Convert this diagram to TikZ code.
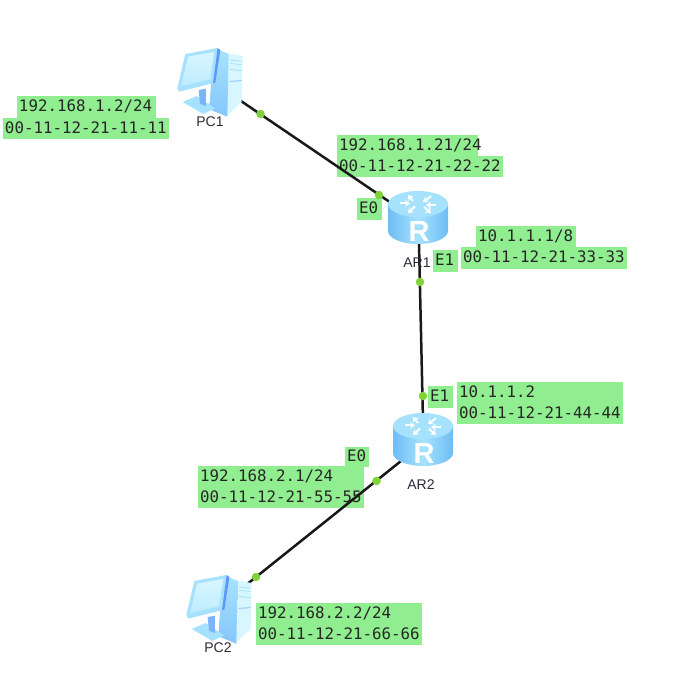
\documentclass[tikz,border=0pt]{standalone}
\usepackage{fontspec}
\setmainfont{Liberation Sans}
\newfontfamily\lblfont{DejaVu Sans Mono}
\usetikzlibrary{arrows.meta}
\definecolor{lblgreen}{HTML}{90EE90}
\definecolor{dotgreen}{HTML}{7FD23A}
\definecolor{rside}{HTML}{8FD3FB}
\definecolor{rsidedark}{HTML}{5FB4F2}
\definecolor{rtop}{HTML}{A6E2FD}
\definecolor{pclight}{HTML}{D8F6FF}
\definecolor{pcmid}{HTML}{A6E2FF}
\definecolor{pcdark}{HTML}{86C6FC}
\definecolor{pcblue}{HTML}{5C96F6}
\definecolor{txtdark}{HTML}{2A2A3A}
\tikzset{
  lblbox/.style={fill=lblgreen,inner xsep=2pt,inner ysep=0pt,align=left,text height=11.5pt,text depth=2.5pt,text=black!85,font=\lblfont\fontsize{15.8}{17}\selectfont},
  link/.style={draw=black!90,line width=2.5pt},
  portdot/.style={circle,fill=dotgreen,inner sep=0pt,minimum size=8.5pt},
  devmark/.style={inner sep=0pt,minimum size=2pt},
  devname/.style={text=txtdark,font=\fontsize{14}{16}\selectfont,inner sep=0pt},
  arr/.style={draw=white,line width=2pt,-{Stealth[length=5pt,width=7pt]}}
}
\newcommand{\lbl}[6]{%
  \pgfmathsetmacro{\lblw}{#4-#2-4}%
  \pgfmathsetmacro{\lblh}{#5-#3}%
  \pgfmathsetmacro{\lblx}{(#2+#4)/2}%
  \pgfmathsetmacro{\lbly}{(#3+#5)/2}%
  \node[lblbox,text width=\lblw pt,minimum height=\lblh pt] (#1) at (\lblx,\lbly) {#6};}
\newcommand{\routerart}[2]{%
  \begin{scope}[shift={(#1,#2)}]
    \shade[left color=rsidedark!70!rside,right color=rsidedark!70!rside,middle color=rtop]
      (-30,-13.5) -- (-30,13.5) arc[start angle=180,end angle=360,x radius=30,y radius=-13] -- (30,-13.5) -- cycle;
    \fill[rtop] (0,-13.5) ellipse[x radius=30,y radius=13];
    \begin{scope}[shift={(0,-13.5)},yscale=.6]
      \draw[arr] (-5,-5) -- (-10,-15);
      \draw[arr] (13,-13) -- (5,-3);
      \draw[arr] (-3,4) -- (-10,15);
      \draw[arr] (6,5) -- (13,15);
      \draw[arr] (-18,-1) -- (-8,-1);
      \draw[arr] (18,2) -- (8,2);
    \end{scope}
    \node[text=white,inner sep=0pt,font=\bfseries\fontsize{29}{29}\selectfont] at (1,14) {R};
  \end{scope}}
\newcommand{\pcart}[2]{%
  \begin{scope}[shift={(#1,#2)},x=.3333pt,y=-.3333pt]
    % tower face
    \fill[pclight] (170,40) -- (218,48) -- (215,186) -- (168,230) -- cycle;
    % tower side block
    \shade[top color=pcmid,bottom color=pcdark] (148,30) -- (176,42) -- (172,230) -- (118,208) -- (125,100) -- cycle;
    \draw[pcmid,line width=.9pt] (180,60) -- (214,64);
    \draw[pcmid,line width=.7pt] (180,70) -- (214,74);
    \draw[pcmid,line width=.9pt] (180,88) -- (214,92);
    \draw[pcdark,line width=.9pt] (180,124) -- (214,122);
    % stand
    \fill[pcmid] (38,186) -- (80,168) -- (135,205) -- (100,222) -- cycle;
    \fill[pcblue!60!pcmid] (86,150) -- (108,146) -- (108,198) -- (90,192) -- cycle;
    % monitor
    \fill[pcmid] (46,42) -- (142,24) -- (150,30) -- (136,128) -- (28,155) -- (22,144) -- cycle;
    \fill[pcblue] (143,24) -- (151,30) -- (136,128) -- (129,129) -- cycle;
    \shade[top color=pclight,bottom color=pcmid!50!pclight] (54,50) -- (133,36) -- (120,118) -- (34,138) -- cycle;
  \end{scope}}
\begin{document}
\begin{tikzpicture}[x=1pt,y=-1pt]
\useasboundingbox (0,0) rectangle (697,696);
% labels
\lbl{lpa}{17}{96}{156}{118}{192.168.1.2/24}
\lbl{lpb}{3}{118}{169}{139}{00-11-12-21-11-11}
\lbl{lqa}{337}{135}{478}{156}{192.168.1.21/24}
\lbl{lqb}{337}{156}{503}{177}{00-11-12-21-22-22}
\lbl{lra}{357}{198}{382}{220}{E0}
\lbl{lsa}{433}{250}{458}{272}{E1}
\lbl{lta}{476}{226}{576}{247}{10.1.1.1/8}
\lbl{ltb}{461}{247}{627}{269}{00-11-12-21-33-33}
\lbl{lua}{428}{386}{453}{408}{E1}
\lbl{lva}{457}{382}{623}{403}{10.1.1.2}
\lbl{lvb}{457}{403}{623}{424}{00-11-12-21-44-44}
\lbl{lwa}{345}{447}{369}{467}{E0}
\lbl{lxa}{198}{466}{364}{487}{192.168.2.1/24}
\lbl{lxb}{198}{487}{364}{508}{00-11-12-21-55-55}
\lbl{lya}{256}{603}{422}{624}{192.168.2.2/24}
\lbl{lyb}{256}{624}{422}{645}{00-11-12-21-66-66}
% device anchors
\node[devmark] (pc1) at (214,82.7) {};
\node[devmark] (ar1) at (418.5,221.5) {};
\node[devmark] (ar2) at (423.5,443) {};
\node[devmark] (pc2) at (225,601.8) {};
% connectors
\draw[link] (pc1.center) -- (ar1.center);
\draw[link] (ar1.center) -- (ar2.center);
\draw[link] (ar2.center) -- (pc2.center);
% device names
\node[devname] (n1) at (210,122) {PC1};
\node[devname] (n2) at (417,263) {AR1};
\node[devname] (n3) at (421,485) {AR2};
\node[devname] (n4) at (218,648) {PC2};
% port dots
\node[portdot] (d1) at (260.5,114) {};
\node[portdot] (d2) at (379,195) {};
\node[portdot] (d3) at (420,282) {};
\node[portdot] (d4) at (423,396) {};
\node[portdot] (d5) at (376.5,481) {};
\node[portdot] (d6) at (256,577) {};
% icons
\routerart{418}{217.5}
\routerart{423}{439.5}
\pcart{170}{40}
\pcart{179}{567}
\end{tikzpicture}
\end{document}
